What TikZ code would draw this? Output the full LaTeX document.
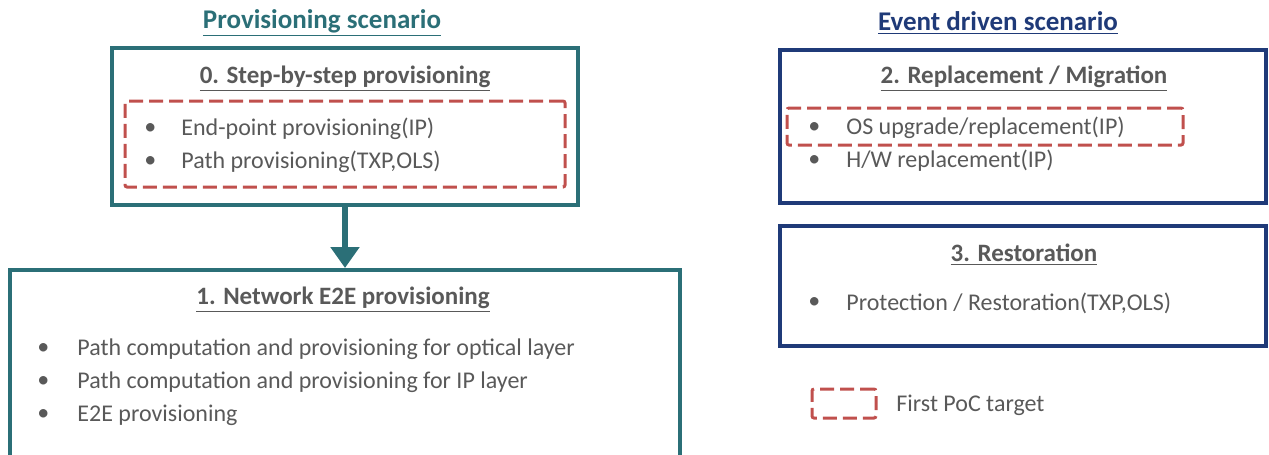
\documentclass[tikz,border=0pt]{standalone}
\usepackage{fontspec}
\setmainfont{Carlito}
\usetikzlibrary{arrows.meta}
\definecolor{provteal}{HTML}{2B6F77}
\definecolor{eventblue}{HTML}{1F3A78}
\definecolor{txtgray}{HTML}{595959}
\definecolor{pocred}{HTML}{C0504D}
\tikzset{
  scentitle/.style={font=\bfseries\fontsize{13.5}{16}\selectfont},
  casetitle/.style={font=\bfseries\fontsize{12.5}{15}\selectfont, text=txtgray},
  item/.style={font=\fontsize{12}{14}\selectfont, text=txtgray, anchor=west, inner sep=0pt},
  casebox/.style={draw, line width=2pt, inner sep=0pt},
  pocbox/.style={draw=pocred, line width=1.5pt, dash pattern=on 7pt off 3pt, rounded corners=1pt, inner sep=0pt},
}
\begin{document}
\begin{tikzpicture}[x=0.5pt, y=-0.5pt]
  \clip (0,0) rectangle (1269,455);
  % left column
  \node[scentitle, text=provteal] (provtitle) at (322,23) {\underline{Provisioning scenario}};
  \node[casebox, draw=provteal, minimum width=233pt, minimum height=78.5pt] (stepbox) at (345,126.5) {};
  \node[casetitle] (steptitle) at (345,79) {\underline{0. Step-by-step provisioning}};
  \node[pocbox, minimum width=220pt, minimum height=43pt] (steppoc) at (345,144) {};
  \node[item] (b1) at (144,129) {•};
  \node[item] (s1) at (181,129) {End-point provisioning(IP)};
  \node[item] (b2) at (144,162) {•};
  \node[item] (s2) at (181,162) {Path provisioning(TXP,OLS)};

  \node[casebox, draw=provteal, minimum width=335pt, minimum height=105pt] (e2ebox) at (345,375) {};
  \node[casetitle] (e2etitle) at (343,300) {\underline{1. Network E2E provisioning}};
  \foreach \t [count=\i] in {Path computation and provisioning for optical layer,
                             Path computation and provisioning for IP layer,
                             E2E provisioning} {
    \node[item] (eb\i) at (37,316+33*\i) {•};
    \node[item] (e\i) at (77,316+33*\i) {\t};
  }
  \draw[provteal, line width=3pt, -{Triangle[width=14pt, length=10.5pt]}]
    (stepbox.south) -- (e2ebox.north);

  % right column
  \node[scentitle, text=eventblue] (eventtitle) at (998,23) {\underline{Event driven scenario}};
  \node[casebox, draw=eventblue, minimum width=243pt, minimum height=76.5pt] (migbox) at (1023,126.5) {};
  \node[casetitle] (migtitle) at (1024,79) {\underline{2. Replacement / Migration}};
  \node[pocbox, minimum width=198pt, minimum height=18.5pt] (migpoc) at (985,126.5) {};
  \node[item] (mb1) at (808,128) {•};
  \node[item] (m1) at (846,128) {OS upgrade/replacement(IP)};
  \node[item] (mb2) at (808,161) {•};
  \node[item] (m2) at (846,161) {H/W replacement(IP)};

  \node[casebox, draw=eventblue, minimum width=243pt, minimum height=60pt] (restbox) at (1023,286) {};
  \node[casetitle] (resttitle) at (1024,255) {\underline{3. Restoration}};
  \node[item] (rb1) at (808,303) {•};
  \node[item] (r1) at (846,303) {Protection / Restoration(TXP,OLS)};

  % legend
  \node[pocbox, minimum width=32pt, minimum height=14.5pt] (legbox) at (844,403.5) {};
  \node[item] (legtext) at (896,405) {First PoC target};
\end{tikzpicture}
\end{document}
